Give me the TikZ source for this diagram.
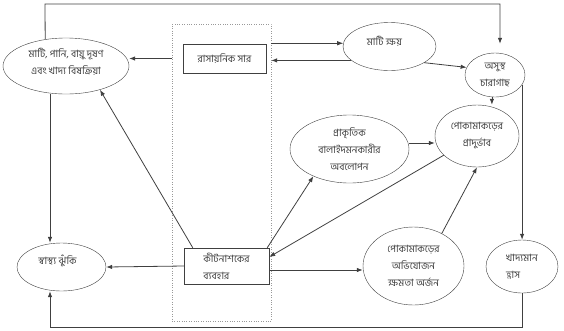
\documentclass[tikz,border=0pt]{standalone}
\usepackage{fontspec}
\newfontfamily\bn[Script=Bengali]{Hind Siliguri}
\usepackage{tikz}
\usetikzlibrary{arrows.meta, positioning, shapes.geometric, calc}

\begin{document}
\begin{tikzpicture}[
  x=1pt, y=-1pt,
  bubble/.style={draw=black!75, ellipse, inner sep=0pt, align=center,
                 text=black!75, font=\bn\fontsize{10}{17}\selectfont},
  boxnode/.style={draw=black!75, rectangle, inner sep=0pt, text=black!75,
                 font=\bn\fontsize{10}{17}\selectfont},
  frame/.style={draw=black!40, dotted, rectangle, inner sep=0pt},
  arrow/.style={-{Latex[length=6pt,width=4.5pt]}, line width=0.8pt, draw=black!75},
]
  \useasboundingbox (0,0) rectangle (564,330);

  % dotted frame round the two inputs
  \node[frame, minimum width=99pt, minimum height=297pt] (frame) at (221.5,172.5) {};

  \node[boxnode, minimum width=83pt, minimum height=29pt] (chem) at (224.5,58.5) {রাসায়নিক সার};
  \node[boxnode, minimum width=85pt, minimum height=36pt, align=left] (pest) at (226.5,266)
    {কীটনাশকের\\ব্যবহার\hspace*{18pt}};

  \node[bubble, minimum width=126pt, minimum height=56pt, text depth=10pt] (pollution) at (66,66)
    {মাটি, পানি, বায়ু দূষণ\\এবং খাদ্য বিষক্রিয়া};
  \node[bubble, minimum width=89pt, minimum height=48pt, text depth=14pt] (health) at (61.5,267)
    {স্বাস্থ্য ঝুঁকি\hspace*{8pt}};
  \node[bubble, minimum width=93pt, minimum height=48pt, text depth=11pt] (erosion) at (389.5,46.5)
    {মাটি ক্ষয়\hspace*{10pt}};
  \node[bubble, minimum width=60pt, minimum height=44pt] (sick) at (495,75) {অসুস্থ\\চারাগাছ};
  \node[bubble, minimum width=84pt, minimum height=62pt] (outbreak) at (477,136) {পোকামাকড়ের\\প্রাদুর্ভাব};
  \node[bubble, minimum width=119pt, minimum height=68pt] (natural) at (349.5,149)
    {প্রাকৃতিক\\বালাইদমনকারীর\\অবলোপন};
  \node[bubble, minimum width=101pt, minimum height=78pt] (adapt) at (413.5,266)
    {পোকামাকড়ের\\অভিযোজন\\ক্ষমতা অর্জন};
  \node[bubble, minimum width=72pt, minimum height=53pt, align=left] (food) at (522,266.5)
    {খাদ্যমান\\হ্রাস};

  \coordinate (topleft) at (45,4);
  \coordinate (topright) at (500,4);
  \coordinate (botleft) at (50,327);

  % connectors
  \draw[arrow, shorten >=9pt] (pollution.128) -- (topleft) -- (topright) -- (topright |- sick.north);
  \draw[arrow] (chem.west -| frame.west) -- (chem.west -| pollution.east);
  \draw[arrow] (erosion.176 -| frame.east) -- (erosion.176);
  \draw[arrow] (erosion.200) -- (erosion.200 -| frame.east);
  \draw[arrow] (erosion.335) -- (sick.165);
  \draw[arrow] (sick.262) -- (sick.262 |- outbreak.north);
  \draw[arrow] (sick.-20) -- (sick.-20 |- food.north);
  \draw[arrow] (food.south) -- (food.south |- botleft) -- (botleft) -- (botleft |- health.south);
  \draw[arrow] (botleft |- pollution.south) -- (botleft |- health.north);
  \draw[arrow] (pest.west) -- (health.east);
  \draw[arrow] ([xshift=9pt]pest.north west) -- (pollution.-35);
  \draw[arrow] ([xshift=-2pt]pest.north east) -- (natural.217);
  \draw[arrow] (outbreak.210) -- ([yshift=9pt]pest.east);
  \draw[arrow] ([yshift=6pt]natural.east) -- ([yshift=6pt]natural.east -| outbreak.west);
  \draw[arrow] ([yshift=-4pt]pest.east) -- ([yshift=-4pt]pest.east -| adapt.west);
  \draw[arrow] (adapt.49) -- (outbreak.south);
\end{tikzpicture}
\end{document}
